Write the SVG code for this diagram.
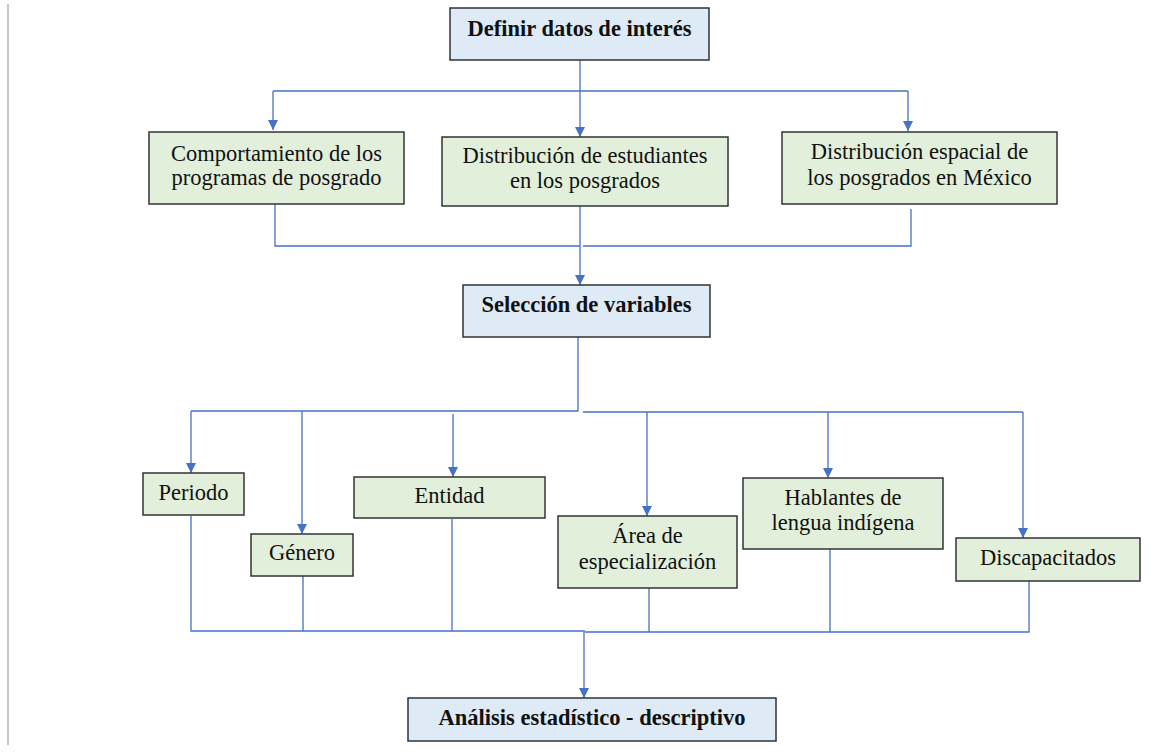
<svg xmlns="http://www.w3.org/2000/svg" width="1170" height="756" viewBox="0 0 1170 756">
<style>
.bx{stroke:#333;stroke-width:1.5}
.g{fill:#E2EFDA}
.b{fill:#DEEAF6}
.t{font-family:"Liberation Serif","Times New Roman",serif;font-size:22.5px;fill:#111;text-anchor:middle}
.tb{font-family:"Liberation Serif","Times New Roman",serif;font-size:22.5px;font-weight:bold;fill:#111;text-anchor:middle}
.c{fill:none;stroke:#4472C4;stroke-width:1.3}
</style>
<defs>
<marker id="ah" viewBox="0 0 10 10" refX="10" refY="5" markerWidth="10" markerHeight="10" markerUnits="userSpaceOnUse" orient="auto">
<path d="M0,0 L10,5 L0,10 z" fill="#4472C4"/>
</marker>
</defs>
<rect width="1170" height="756" fill="#fff"/>
<line x1="8" y1="4" x2="8" y2="745" stroke="#a0a0a0" stroke-width="1.2"/>

<g id="connectors">
<path class="c" d="M580,60 V91"/>
<path class="c" d="M273,91 H908"/>
<path class="c" d="M273,91 V130" marker-end="url(#ah)"/>
<path class="c" d="M580,91 V137" marker-end="url(#ah)"/>
<path class="c" d="M908,91 V131" marker-end="url(#ah)"/>
<path class="c" d="M275,204 V246 H580"/>
<path class="c" d="M583,246 H911 V209"/>
<path class="c" d="M580,206 V285" marker-end="url(#ah)"/>
<path class="c" d="M578,337 V411 H191"/>
<path class="c" d="M583,412 H1023"/>
<path class="c" d="M191,411 V473" marker-end="url(#ah)"/>
<path class="c" d="M302,411 V534" marker-end="url(#ah)"/>
<path class="c" d="M453,414 V477" marker-end="url(#ah)"/>
<path class="c" d="M647,412 V516" marker-end="url(#ah)"/>
<path class="c" d="M828,412 V478" marker-end="url(#ah)"/>
<path class="c" d="M1023,412 V538" marker-end="url(#ah)"/>
<path class="c" d="M191,516 V631 H585"/>
<path class="c" d="M303,576 V631"/>
<path class="c" d="M452,519 V631"/>
<path class="c" d="M585,632 H1029 V581"/>
<path class="c" d="M649,588 V632"/>
<path class="c" d="M830,549 V632"/>
<path class="c" d="M584,632 V698" marker-end="url(#ah)"/>
</g>

<g id="n-definir">
<rect class="bx b" x="450" y="8" width="259" height="52"/>
<text class="tb" x="579.5" y="36">Definir datos de interés</text>
</g>
<g id="n-comportamiento">
<rect class="bx g" x="149" y="132" width="255" height="72"/>
<text class="t" x="276.5" y="161">Comportamiento de los</text>
<text class="t" x="276.5" y="185">programas de posgrado</text>
</g>
<g id="n-distribucion">
<rect class="bx g" x="442" y="137" width="286" height="69"/>
<text class="t" x="585" y="163">Distribución de estudiantes</text>
<text class="t" x="585" y="188">en los posgrados</text>
</g>
<g id="n-espacial">
<rect class="bx g" x="782" y="132" width="275" height="72"/>
<text class="t" x="919.5" y="159">Distribución espacial de</text>
<text class="t" x="919.5" y="185">los posgrados en México</text>
</g>
<g id="n-seleccion">
<rect class="bx b" x="463" y="285" width="247" height="52"/>
<text class="tb" x="586.5" y="312">Selección de variables</text>
</g>
<g id="n-periodo">
<rect class="bx g" x="143" y="473" width="101" height="42"/>
<text class="t" x="193.5" y="500">Periodo</text>
</g>
<g id="n-genero">
<rect class="bx g" x="251" y="534" width="102" height="42"/>
<text class="t" x="302" y="560">Género</text>
</g>
<g id="n-entidad">
<rect class="bx g" x="354" y="477" width="191" height="41"/>
<text class="t" x="449.5" y="503">Entidad</text>
</g>
<g id="n-area">
<rect class="bx g" x="558" y="516" width="179" height="72"/>
<text class="t" x="647.5" y="543">Área de</text>
<text class="t" x="647.5" y="569">especialización</text>
</g>
<g id="n-hablantes">
<rect class="bx g" x="743" y="478" width="200" height="71"/>
<text class="t" x="843" y="505">Hablantes de</text>
<text class="t" x="843" y="530">lengua indígena</text>
</g>
<g id="n-discapacitados">
<rect class="bx g" x="956" y="538" width="184" height="43"/>
<text class="t" x="1048" y="565">Discapacitados</text>
</g>
<g id="n-analisis">
<rect class="bx b" x="408" y="698" width="368" height="43"/>
<text class="tb" x="592" y="725">Análisis estadístico - descriptivo</text>
</g>
</svg>
